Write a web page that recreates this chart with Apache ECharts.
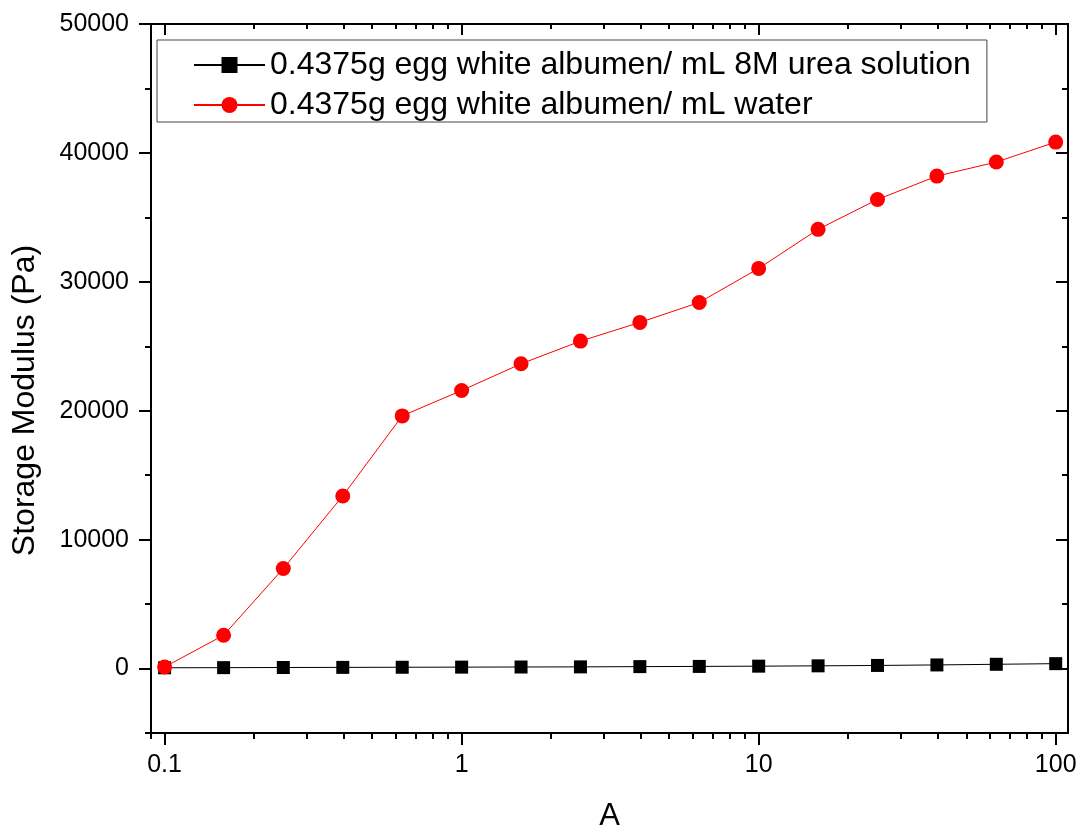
<!DOCTYPE html>
<html>
<head>
<meta charset="utf-8">
<script src="https://cdn.jsdelivr.net/npm/echarts@6/dist/echarts.min.js"></script>
<style>
  html, body { margin: 0; padding: 0; background: #fff; }
  #main { width: 1086px; height: 832px; }
</style>
</head>
<body>
<div id="main"></div>
<script>
// frequency-like x values (log axis)
const xVals = [0.1, 0.158, 0.251, 0.398, 0.631, 1, 1.585, 2.512, 3.981, 6.31, 10, 15.85, 25.12, 39.81, 63.1, 100]
const ureaVals = [60, 70, 80, 90, 100, 110, 120, 130, 150, 165, 185, 210, 240, 280, 330, 380]
const waterVals = [120, 2580, 7760, 13390, 19600, 21570, 23640, 25400, 26850, 28400, 31040, 34070, 36390, 38200, 39290, 40840]
const xMajor = [0.1, 1, 10, 100]
const xMinor = [0.09, 0.2, 0.3, 0.4, 0.5, 0.6, 0.7, 0.8, 0.9, 2, 3, 4, 5, 6, 7, 8, 9, 20, 30, 40, 50, 60, 70, 80, 90]
const yMajor = [0, 10000, 20000, 30000, 40000, 50000]
const yMinor = [-5000, 5000, 15000, 25000, 35000, 45000]
const names = ['0.4375g egg white albumen/ mL 8M urea solution', '0.4375g egg white albumen/ mL water']

const font = 'Liberation Sans, Arial, sans-serif'
const chart = echarts.init(document.getElementById('main'))

const pair = (a, b) => a.map((v, i) => [v, b[i]])

const xAx = (pos, ticks, len, inside, extra) => Object.assign({
  type: 'log',
  logBase: 10,
  position: pos,
  min: 0.09,
  max: 110,
  axisLine: { show: true, onZero: false, lineStyle: { color: '#000', width: 2 } },
  axisTick: { show: true, inside: inside, length: len, customValues: ticks, lineStyle: { color: '#000', width: 2 } },
  axisLabel: { show: false },
  splitLine: { show: false },
  minorTick: { show: false },
  minorSplitLine: { show: false }
}, extra || {})

const yAx = (pos, ticks, len, inside, extra) => Object.assign({
  type: 'value',
  position: pos,
  min: -5000,
  max: 50000,
  axisLine: { show: true, onZero: false, lineStyle: { color: '#000', width: 2 } },
  axisTick: { show: true, inside: inside, length: len, customValues: ticks, lineStyle: { color: '#000', width: 2 } },
  axisLabel: { show: false },
  splitLine: { show: false }
}, extra || {})

const option = {
  backgroundColor: '#fff',
  animation: false,
  grid: { left: 151, right: 18, top: 24, bottom: 99, outerBoundsMode: 'none' },
  legend: {
    left: 157,
    top: 40,
    orient: 'vertical',
    itemWidth: 71,
    itemHeight: 20,
    itemGap: 6,
    padding: [8, 16, 0, 36],
    borderColor: '#444',
    borderWidth: 1,
    textStyle: { fontFamily: font, fontSize: 32, color: '#000', lineHeight: 34 },
    data: names
  },
  xAxis: [
    xAx('bottom', xMajor, 12, false, {
      axisLabel: { show: true, customValues: xMajor, fontFamily: font, fontSize: 25, color: '#000', margin: 20 },
      name: 'A',
      nameLocation: 'middle',
      nameGap: 68,
      nameTextStyle: { fontFamily: font, fontSize: 31, color: '#000' }
    }),
    xAx('bottom', xMinor, 6, false),
    xAx('top', xMajor, 11, true),
    xAx('top', xMinor, 5, true)
  ],
  yAxis: [
    yAx('left', yMajor, 12, false, {
      axisLabel: { show: true, customValues: yMajor, fontFamily: font, fontSize: 25, color: '#000', margin: 22,
        formatter: v => String(v) },
      name: 'Storage Modulus (Pa)',
      nameLocation: 'middle',
      nameGap: 110,
      nameTextStyle: { fontFamily: font, fontSize: 32, color: '#000', padding: [0, 44, 0, 0] }
    }),
    yAx('left', yMinor, 6, false),
    yAx('right', yMajor, 12, true),
    yAx('right', yMinor, 6, true)
  ],
  series: [
    {
      name: names[0],
      type: 'line',
      xAxisIndex: 0,
      yAxisIndex: 0,
      data: pair(xVals, ureaVals),
      symbol: 'rect',
      symbolSize: 13,
      itemStyle: { color: '#000' },
      lineStyle: { color: '#000', width: 1 }
    },
    {
      name: names[1],
      type: 'line',
      xAxisIndex: 0,
      yAxisIndex: 0,
      data: pair(xVals, waterVals),
      symbol: 'circle',
      symbolSize: 15,
      itemStyle: { color: '#ff0000' },
      lineStyle: { color: '#ff0000', width: 1 },
      z: 3
    }
  ]
}

chart.setOption(option)
</script>
</body>
</html>
